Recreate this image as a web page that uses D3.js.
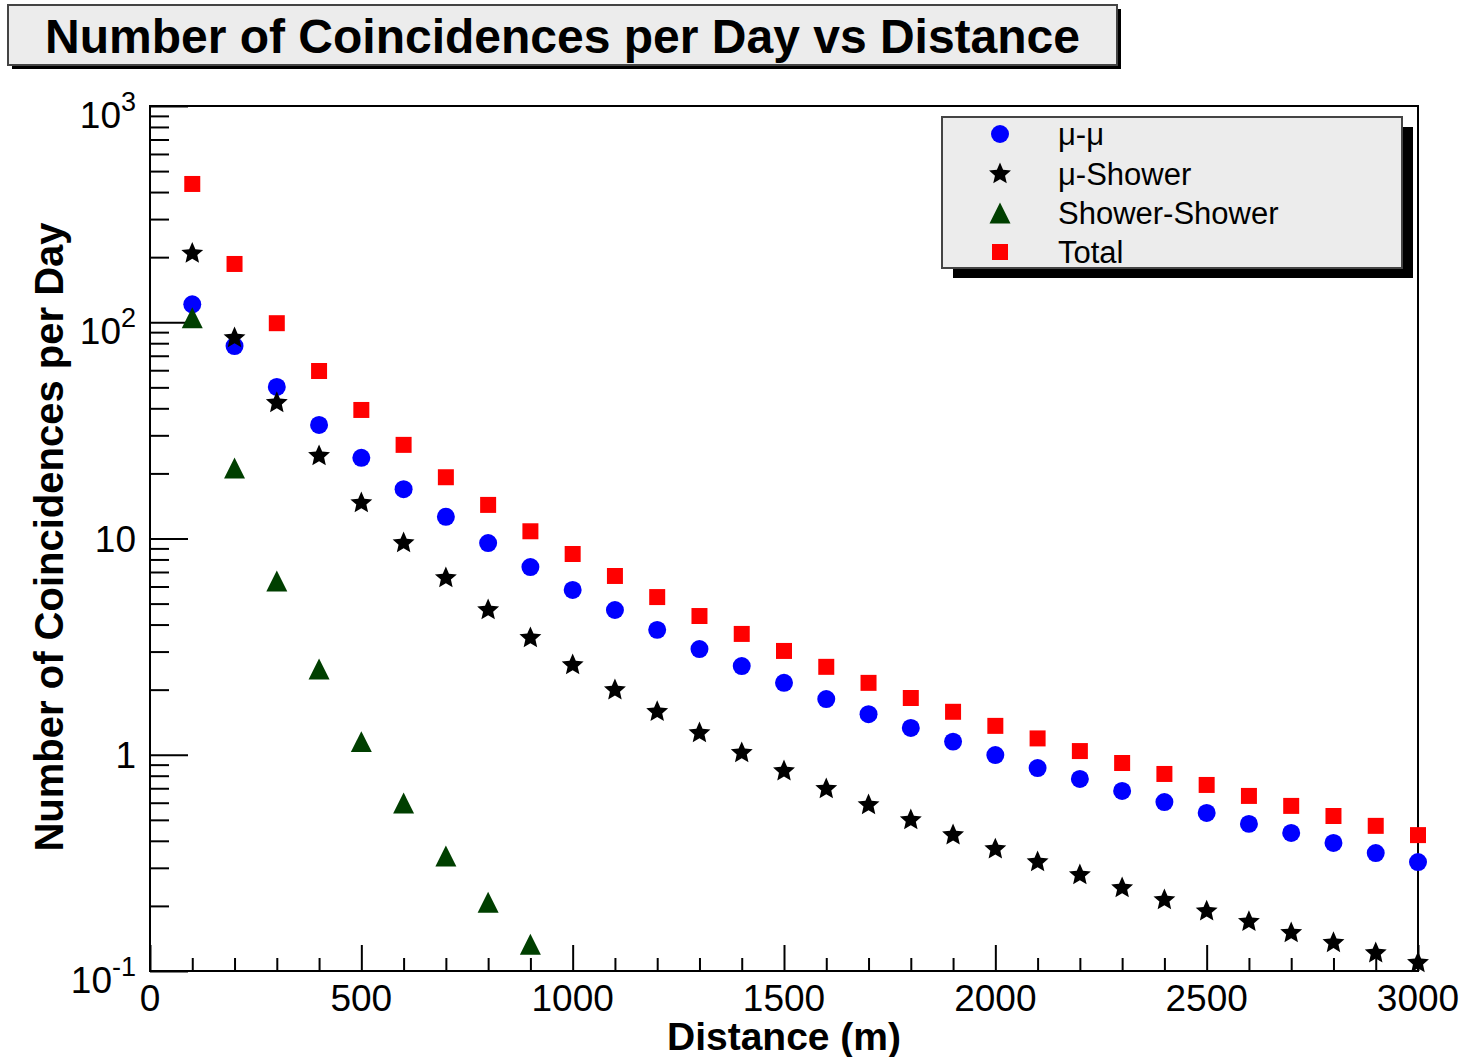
<!DOCTYPE html>
<html>
<head>
<meta charset="utf-8">
<script src="https://cdn.jsdelivr.net/npm/d3@7"></script>
<style>
  body { margin: 0; background: #fff; }
  text { font-family: "Liberation Sans", Arial, Helvetica, sans-serif; }
</style>
</head>
<body>
<svg id="chart" width="1468" height="1057"></svg>
<script>
// Separation between detectors (m)
const distances = [100, 200, 300, 400, 500, 600, 700, 800, 900, 1000,
  1100, 1200, 1300, 1400, 1500, 1600, 1700, 1800, 1900, 2000,
  2100, 2200, 2300, 2400, 2500, 2600, 2700, 2800, 2900, 3000];

// Coincidences per day for each channel
const muMu = [121, 77.6, 50.2, 33.5, 23.6, 16.9, 12.6, 9.53, 7.38, 5.78,
  4.67, 3.78, 3.08, 2.57, 2.15, 1.81, 1.54, 1.33, 1.15, 0.997,
  0.868, 0.773, 0.68, 0.604, 0.538, 0.479, 0.435, 0.391, 0.351, 0.319];
const muShower = [208, 84.6, 42.4, 24.1, 14.6, 9.53, 6.57, 4.67, 3.47, 2.60,
  1.99, 1.58, 1.26, 1.02, 0.84, 0.695, 0.586, 0.499, 0.425, 0.366,
  0.319, 0.278, 0.242, 0.213, 0.189, 0.169, 0.150, 0.135, 0.121, 0.109];
const showerShower = [105, 21.2, 6.36, 2.49, 1.15, 0.598, 0.340, 0.208, 0.133];
const total = [436, 186, 99, 59.5, 39.3, 27.1, 19.2, 14.3, 10.8, 8.48,
  6.71, 5.36, 4.38, 3.62, 3.02, 2.55, 2.15, 1.83, 1.58, 1.36,
  1.19, 1.04, 0.916, 0.815, 0.725, 0.645, 0.58, 0.521, 0.469, 0.425];

// Axis ticks and labels
const xMajorTicks = [0, 500, 1000, 1500, 2000, 2500, 3000];
const xMinorTicks = [100, 200, 300, 400, 600, 700, 800, 900, 1100, 1200, 1300, 1400,
  1600, 1700, 1800, 1900, 2100, 2200, 2300, 2400, 2600, 2700, 2800, 2900];
const yMajorTicks = [0.1, 1, 10, 100, 1000];
const yTickBase = ["10", "1", "10", "10", "10"];
const yTickSup = ["-1", "", "", "2", "3"];

const seriesNames = ["\u03bc-\u03bc", "\u03bc-Shower", "Shower-Shower", "Total"];

const svg = d3.select("#chart");

const x = d3.scaleLinear().domain([0, 3000]).range([150, 1418]);
const y = d3.scaleLog().domain([0.1, 1000]).range([971, 106]);

// minor ticks for the log axis: 2..9 in every decade
const yMinorTicks = y.ticks().filter(v => !yMajorTicks.some(m => Math.abs(m - v) / m < 1e-9));

// ---- title box with drop shadow ----
svg.append("rect").attr("x", 12).attr("y", 9).attr("width", 1109).attr("height", 60).attr("fill", "#000");
svg.append("rect").attr("x", 8).attr("y", 5).attr("width", 1109).attr("height", 60)
  .attr("fill", "#ececec").attr("stroke", "#444").attr("stroke-width", 2);
svg.append("text").attr("x", 45).attr("y", 53)
  .attr("font-size", 48).attr("font-weight", "bold").attr("fill", "#000")
  .text("Number of Coincidences per Day vs Distance");

// ---- axes ----
const axisStyle = g => {
  g.select(".domain").remove();
  g.selectAll(".tick line").attr("stroke", "#000").attr("stroke-width", 2);
};

svg.append("g").attr("transform", "translate(150,0)")
  .call(d3.axisLeft(y).tickValues(yMajorTicks).tickSize(-38).tickFormat(""))
  .call(axisStyle);
svg.append("g").attr("transform", "translate(150,0)")
  .call(d3.axisLeft(y).tickValues(yMinorTicks).tickSize(-19).tickFormat(""))
  .call(axisStyle);
svg.append("g").attr("transform", "translate(0,971)")
  .call(d3.axisBottom(x).tickValues(xMajorTicks).tickSize(-26).tickFormat(""))
  .call(axisStyle);
svg.append("g").attr("transform", "translate(0,971)")
  .call(d3.axisBottom(x).tickValues(xMinorTicks).tickSize(-13).tickFormat(""))
  .call(axisStyle);

// frame
svg.append("rect").attr("x", 150).attr("y", 106).attr("width", 1268).attr("height", 865)
  .attr("fill", "none").attr("stroke", "#000").attr("stroke-width", 2);

// y tick labels (with exponents)
yMajorTicks.forEach((v, i) => {
  const hasSup = yTickSup[i] !== "";
  const t = svg.append("text").attr("x", 136).attr("y", y(v) + (hasSup ? 22 : 13))
    .attr("text-anchor", "end").attr("font-size", 37).attr("fill", "#000");
  t.append("tspan").text(yTickBase[i]);
  if (hasSup) t.append("tspan").attr("dy", -17).attr("font-size", 27).text(yTickSup[i]);
});

// x tick labels
xMajorTicks.forEach(v => {
  svg.append("text").attr("x", x(v)).attr("y", 1011).attr("text-anchor", "middle")
    .attr("font-size", 37).attr("fill", "#000").text(v);
});

// axis titles
svg.append("text").attr("x", 784).attr("y", 1050).attr("text-anchor", "middle")
  .attr("font-size", 39).attr("font-weight", "bold").text("Distance (m)");
svg.append("text").attr("transform", "translate(63,537) rotate(-90)")
  .attr("text-anchor", "middle").attr("font-size", 40).attr("font-weight", "bold")
  .text("Number of Coincidences per Day");

// ---- markers ----
const triangleUp = {
  draw(ctx, size) {
    const h = Math.sqrt(size);
    ctx.moveTo(0, -h / 2);
    ctx.lineTo(h / 2, h / 2);
    ctx.lineTo(-h / 2, h / 2);
    ctx.closePath();
  }
};
// five-pointed star with a fairly wide body
const fatStar = {
  draw(ctx, size) {
    const R = Math.sqrt(size) / 2, r = R * 0.46;
    for (let i = 0; i < 10; i++) {
      const a = -Math.PI / 2 + i * Math.PI / 5;
      const rad = i % 2 ? r : R;
      const px = rad * Math.cos(a), py = rad * Math.sin(a);
      if (i === 0) ctx.moveTo(px, py); else ctx.lineTo(px, py);
    }
    ctx.closePath();
  }
};
const markers = [
  { type: d3.symbolCircle, size: 254, color: "#0000ff" },
  { type: fatStar, size: 530, color: "#000000" },
  { type: triangleUp, size: 440, color: "#003f00" },
  { type: d3.symbolSquare, size: 256, color: "#ff0000" }
];
const seriesValues = [muMu, muShower, showerShower, total];

seriesValues.forEach((vals, k) => {
  const m = markers[k];
  const sym = d3.symbol().type(m.type).size(m.size);
  svg.append("g").selectAll("path")
    .data(vals.map((v, i) => [distances[i], v]))
    .join("path")
    .attr("transform", d => `translate(${x(d[0])},${y(d[1])})`)
    .attr("d", sym)
    .attr("fill", m.color);
});

// ---- legend ----
svg.append("rect").attr("x", 953).attr("y", 127).attr("width", 460).attr("height", 151).attr("fill", "#000");
svg.append("rect").attr("x", 942).attr("y", 117).attr("width", 460).attr("height", 151)
  .attr("fill", "#ececec").attr("stroke", "#444").attr("stroke-width", 2);
const legendRows = [134, 174, 213, 252];
seriesNames.forEach((name, k) => {
  const m = markers[k];
  svg.append("path").attr("transform", `translate(1000,${legendRows[k]})`)
    .attr("d", d3.symbol().type(m.type).size(m.size)).attr("fill", m.color);
  svg.append("text").attr("x", 1058).attr("y", legendRows[k] + 11)
    .attr("font-size", 31).attr("fill", "#000").text(name);
});
</script>
</body>
</html>
